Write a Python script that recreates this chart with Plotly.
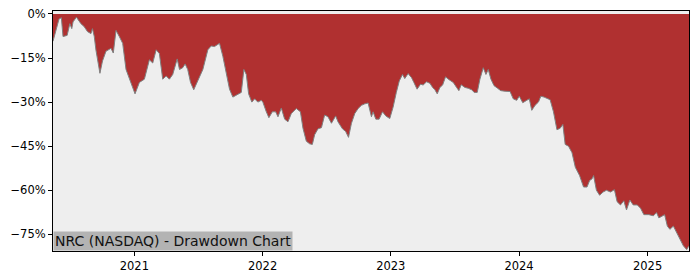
import pandas as pd
import plotly.graph_objects as go

# Time as decimal years, drawdown in percent
years = [
    2020.367, 2020.414, 2020.432, 2020.445, 2020.477, 2020.498, 2020.513, 2020.523,
    2020.549, 2020.584, 2020.609, 2020.635, 2020.662, 2020.674, 2020.688, 2020.701,
    2020.732, 2020.752, 2020.779, 2020.818, 2020.836, 2020.857, 2020.883, 2020.909,
    2020.935, 2020.974, 2021.005, 2021.039, 2021.078, 2021.117, 2021.143, 2021.170,
    2021.195, 2021.221, 2021.248, 2021.273, 2021.299, 2021.334, 2021.352, 2021.377,
    2021.396, 2021.416, 2021.438, 2021.463, 2021.495, 2021.534, 2021.573, 2021.599,
    2021.625, 2021.664, 2021.690, 2021.716, 2021.742, 2021.768, 2021.807, 2021.834,
    2021.854, 2021.873, 2021.891, 2021.916, 2021.938, 2021.963, 2021.990,
    2022.002, 2022.029, 2022.049, 2022.076, 2022.102, 2022.120, 2022.146, 2022.172,
    2022.198, 2022.224, 2022.263, 2022.295, 2022.315, 2022.341, 2022.367, 2022.388,
    2022.406, 2022.432, 2022.459, 2022.484, 2022.510, 2022.537, 2022.570, 2022.588,
    2022.623, 2022.648, 2022.670, 2022.693, 2022.719, 2022.745, 2022.771, 2022.797,
    2022.823, 2022.849, 2022.862, 2022.883, 2022.909, 2022.935, 2022.961, 2022.992,
    2023.018, 2023.043, 2023.066, 2023.091, 2023.109, 2023.135, 2023.162, 2023.180,
    2023.205, 2023.232, 2023.252, 2023.279, 2023.305, 2023.326, 2023.344, 2023.362,
    2023.383, 2023.404, 2023.427, 2023.455, 2023.487, 2023.513, 2023.531, 2023.549,
    2023.578, 2023.604, 2023.630, 2023.651, 2023.674, 2023.695, 2023.721, 2023.742,
    2023.760, 2023.781, 2023.805, 2023.830, 2023.857, 2023.891, 2023.930, 2023.955,
    2023.982, 2024.002, 2024.029, 2024.060, 2024.080, 2024.099, 2024.125, 2024.151,
    2024.170, 2024.195, 2024.219, 2024.242, 2024.268, 2024.295, 2024.320, 2024.341,
    2024.359, 2024.385, 2024.412, 2024.438, 2024.471, 2024.502, 2024.529, 2024.549,
    2024.568, 2024.580, 2024.602, 2024.627, 2024.654, 2024.680, 2024.711, 2024.742,
    2024.763, 2024.789, 2024.815, 2024.836, 2024.862, 2024.888, 2024.920, 2024.945,
    2024.971, 2025.010, 2025.045, 2025.070, 2025.088, 2025.115, 2025.133, 2025.154,
    2025.174, 2025.201, 2025.227, 2025.252, 2025.279, 2025.305, 2025.323,
]
drawdown = [
    -9.3, -1.7, -1.3, -7.7, -7.3, -3.3, -5.0, -2.7,
    -1.1, -3.3, -4.3, -6.0, -6.7, -5.0, -7.7, -12.3,
    -20.2, -16.0, -12.7, -11.7, -13.3, -5.6, -7.7, -10.0,
    -18.9, -23.3, -27.2, -23.3, -22.2, -15.6, -16.7, -12.2,
    -13.5, -22.2, -21.1, -22.2, -20.6, -15.3, -18.9, -18.3,
    -17.0, -18.9, -23.3, -25.8, -22.8, -18.9, -12.2, -10.9,
    -11.1, -10.0, -14.4, -20.0, -25.6, -28.3, -27.2, -26.7,
    -18.9, -20.6, -27.2, -30.0, -28.9, -30.0, -29.4,
    -30.0, -33.3, -35.3, -33.3, -33.3, -35.0, -32.0, -35.8,
    -36.7, -33.9, -32.2, -33.3, -38.9, -43.3, -44.2, -44.4,
    -41.1, -39.1, -38.7, -34.4, -35.0, -37.2, -34.7, -36.7,
    -39.1, -40.0, -42.0, -37.2, -33.9, -32.2, -31.1, -30.6,
    -30.3, -35.0, -33.3, -35.8, -35.8, -33.3, -34.7, -35.6,
    -31.7, -26.7, -22.8, -20.6, -22.0, -20.3, -21.7, -23.3,
    -25.6, -23.9, -24.2, -23.1, -23.6, -25.0, -25.8, -27.2,
    -25.0, -24.2, -21.4, -22.4, -23.3, -25.0, -26.1, -24.1,
    -25.0, -25.3, -25.8, -26.7, -26.7, -22.2, -18.3, -20.6,
    -18.9, -22.2, -24.4, -25.2, -26.1, -26.3, -26.4, -28.9,
    -29.4, -28.0, -30.2, -29.4, -28.9, -32.8, -31.1, -30.0,
    -28.0, -28.3, -28.8, -29.2, -33.3, -39.4, -38.9, -37.6,
    -44.4, -45.0, -47.2, -52.2, -55.0, -58.9, -58.9, -56.7,
    -56.1, -55.0, -60.0, -61.7, -60.6, -60.0, -60.6, -59.8,
    -63.9, -65.0, -63.6, -66.7, -63.3, -65.0, -65.0, -66.1,
    -68.3, -68.3, -68.7, -67.6, -69.4, -68.9, -68.3, -72.2,
    -73.3, -72.2, -74.4, -76.7, -78.9, -80.2, -78.9,
]
ytick_vals = [0, -15, -30, -45, -60, -75]
ytick_text = ["0%", "−15%", "−30%", "−45%", "−60%", "−75%"]
xtick_years = [2021, 2022, 2023, 2024, 2025]
title_text = "NRC (NASDAQ) - Drawdown Chart"


def to_date(y):
    yr = int(y)
    start = pd.Timestamp(year=yr, month=1, day=1)
    end = pd.Timestamp(year=yr + 1, month=1, day=1)
    return start + (end - start) * (y - yr)


dates = [to_date(y) for y in years]
xticks = [pd.Timestamp(year=y, month=1, day=1) for y in xtick_years]

fig = go.Figure()
fig.add_trace(go.Scatter(
    x=dates, y=drawdown, mode="lines", fill="tozeroy",
    fillcolor="#b03030", line=dict(color="#808080", width=1),
    hoverinfo="skip", showlegend=False,
))

fig.update_layout(
    width=700, height=280,
    margin=dict(l=53, r=11, t=7, b=28),
    paper_bgcolor="white", plot_bgcolor="#eeeeee",
    font=dict(family="DejaVu Sans", size=11.5, color="black"),
    xaxis=dict(
        range=[dates[0], dates[-1]],
        tickvals=xticks, ticktext=[str(y) for y in xtick_years],
        ticks="outside", ticklen=4, tickcolor="black", tickwidth=1,
        showline=True, linecolor="black", linewidth=1, mirror=True,
        showgrid=False, zeroline=False,
    ),
    yaxis=dict(
        range=[-80.67, 1.0],
        tickvals=ytick_vals, ticktext=ytick_text,
        ticks="outside", ticklen=4, tickcolor="black", tickwidth=1,
        showline=True, linecolor="black", linewidth=1, mirror=True,
        showgrid=False, zeroline=False,
    ),
    annotations=[dict(
        text=title_text, xref="paper", yref="paper", x=0, y=0,
        xanchor="left", yanchor="bottom", showarrow=False,
        bgcolor="#b3b3b3", borderpad=1,
        font=dict(family="DejaVu Sans", size=14, color="#111111"),
    )],
)

fig.write_html("out.html")
